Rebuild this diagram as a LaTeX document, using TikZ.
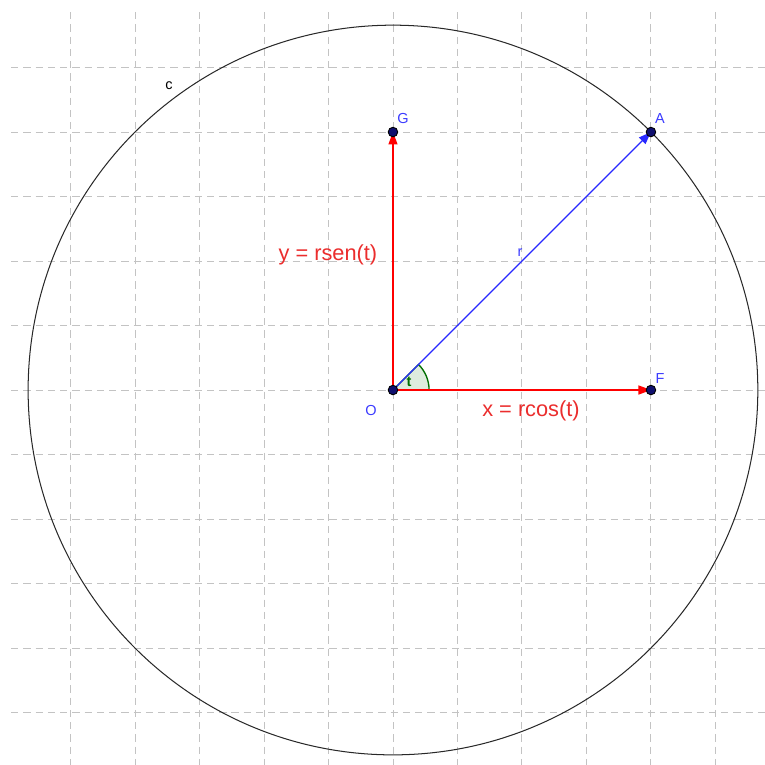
\documentclass[tikz,border=0pt]{standalone}
\usepackage{fontspec}
\setmainfont{Liberation Sans}
\usetikzlibrary{arrows.meta}
\definecolor{gridc}{RGB}{195,195,195}
\definecolor{circc}{RGB}{40,40,40}
\definecolor{vred}{RGB}{255,0,0}
\definecolor{lred}{RGB}{235,45,45}
\definecolor{vblue}{RGB}{40,40,255}
\definecolor{lblue}{RGB}{60,60,255}
\definecolor{ptfill}{RGB}{15,15,110}
\definecolor{angfill}{RGB}{222,236,222}
\definecolor{angdraw}{RGB}{0,110,0}
\tikzset{
  gridline/.style={draw=gridc, line width=0.42pt, dash pattern=on 3.2pt off 2.2pt},
  vec/.style={line width=0.5pt, -{Triangle[length=5.5pt,width=4pt]}},
  pt/.style={circle, fill=ptfill, draw=black, line width=0.4pt, inner sep=0pt, minimum size=4.2pt},
  plabel/.style={text=lblue, font=\fontsize{6.4}{7}\selectfont, inner sep=0pt},
  biglabel/.style={text=lred, font=\fontsize{9.6}{11}\selectfont, inner sep=0pt},
}
\begin{document}
\begin{tikzpicture}[x=1cm,y=1cm]
\useasboundingbox (-6.093,-5.814) rectangle (5.767,6.047);
\fill[white] (-6.093,-5.814) rectangle (5.767,6.047);
% grid
\foreach \i in {-5,...,5} {
  \draw[gridline] (\i,5.86) -- (\i,-5.814);
  \draw[gridline] (-5.92,\i) -- (5.767,\i);
}
% points
\coordinate (O) at (0,0);
\coordinate (A) at (4,4);
\coordinate (F) at (4,0);
\coordinate (G) at (0,4);
% circle c
\draw[circc, line width=0.45pt] (O) circle ({sqrt(32)});
\node[inner sep=0pt, font=\fontsize{6.4}{7}\selectfont] (lc) at (-3.473,4.713) {c};
% angle t
\filldraw[fill=angfill, draw=angdraw, line width=0.6pt] (O) -- (0.56,0) arc (0:45:0.56) -- cycle;
\node[inner sep=0pt, text=angdraw, font=\fontsize{6.4}{7}\selectfont\bfseries] (lt) at (0.25,0.12) {t};
% vectors
\draw[vec, vblue] (O) -- (A);
\draw[vec, vred] (O) -- (F);
\draw[vec, vred] (O) -- (G);
% markers
\node[pt] (Om) at (O) {};
\node[pt] (Am) at (A) {};
\node[pt] (Fm) at (F) {};
\node[pt] (Gm) at (G) {};
% labels
\node[plabel] (lA) at (4.14,4.202) {A};
\node[plabel] (lG) at (0.155,4.202) {G};
\node[plabel] (lF) at (4.14,0.171) {F};
\node[plabel] (lO) at (-0.341,-0.31) {O};
\node[plabel] (lr) at (1.969,2.124) {r};
\node[biglabel] (ly) at (-1.008,2.093) {y = rsen(t)};
\node[biglabel] (lx) at (2.14,-0.326) {x = rcos(t)};
\end{tikzpicture}
\end{document}
